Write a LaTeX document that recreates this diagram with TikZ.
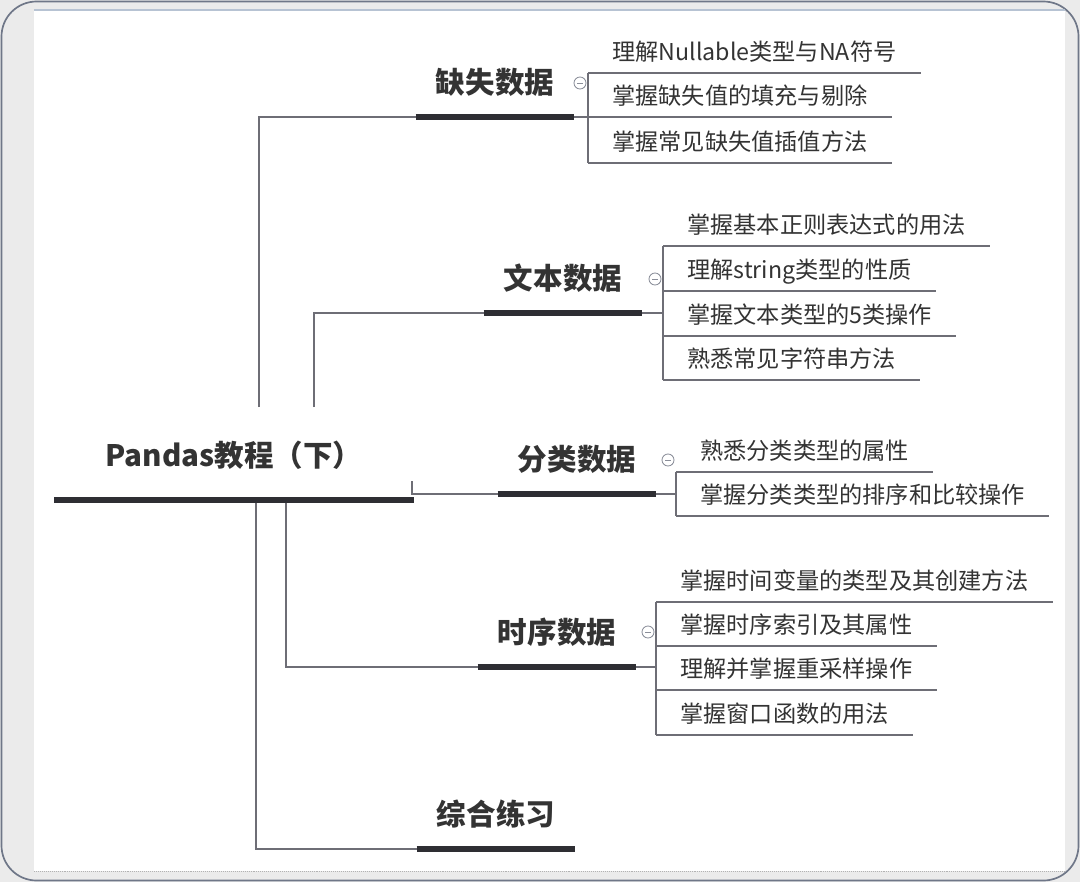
\documentclass[tikz,border=0pt]{standalone}
\usepackage{fontspec}
\setmainfont{Noto Sans CJK SC}
\usetikzlibrary{positioning,calc}

\definecolor{inkcol}{HTML}{333333}
\definecolor{twigcol}{HTML}{6E6E76}
\definecolor{barcol}{HTML}{2E2E33}
\definecolor{bgcol}{HTML}{EBEBEB}
\definecolor{framecol}{HTML}{6F7788}
\definecolor{edgecol}{HTML}{B7C3D3}
\definecolor{foldcol}{HTML}{8A8E99}

\begin{document}
\begin{tikzpicture}[x=0.025cm, y=-0.025cm,
	twig/.style={twigcol, line width=1pt},
	bar/.style={barcol, line width=4pt},
	rootnode/.style={font=\bfseries\fontsize{21pt}{25pt}\selectfont, text=inkcol, anchor=south, inner xsep=1.28cm, inner ysep=0.83cm, text depth=0pt},
	topic/.style={font=\bfseries\fontsize{21pt}{25pt}\selectfont, text=inkcol, anchor=south, inner xsep=0.5cm, inner ysep=0.575cm, text depth=0pt},
	leaf/.style={font=\fontsize{16.5pt}{19pt}\selectfont, text=inkcol, anchor=south west, inner xsep=0.6cm, inner ysep=0.31cm, text depth=0pt},
	fold/.style={circle, draw=foldcol, fill=white, line width=0.6pt, inner sep=0pt, minimum size=0.3cm,
		path picture={\draw[foldcol, line width=0.6pt] ([xshift=-2pt]path picture bounding box.center) -- ([xshift=2pt]path picture bounding box.center);}}]
	\useasboundingbox (0,0) rectangle (1080,882);

	% frame
	\fill[bgcol] (0,0) rectangle (1080,882);
	\draw[framecol, line width=1.2pt, rounded corners=0.875cm] (1.5,1.5) rectangle (1078.5,880.5);
	\fill[white] (34,10) rectangle (1065,871);
	\draw[edgecol, line width=1pt] (34,10) -- (1065,10);
	\draw[gray!60, densely dotted] (34,871) -- (1065,871);

	\node[rootnode] (pd) at (234, 500) {Pandas教程（下）};

	\node[topic] (miss) at (495, 117) {缺失数据};
	\node[topic] (txt)  at (563, 313) {文本数据};
	\node[topic] (cat)  at (577, 494) {分类数据};
	\node[topic] (time) at (557, 667) {时序数据};
	\node[topic] (prac) at (496, 849) {综合练习};

	\node[leaf] (miss1) at (588, 73)  {理解Nullable类型与NA符号};
	\node[leaf] (miss2) at (588, 117) {掌握缺失值的填充与剔除};
	\node[leaf] (miss3) at (588, 163) {掌握常见缺失值插值方法};

	\node[leaf] (txt1) at (663, 246) {掌握基本正则表达式的用法};
	\node[leaf] (txt2) at (663, 291) {理解string类型的性质};
	\node[leaf] (txt3) at (663, 336) {掌握文本类型的5类操作};
	\node[leaf] (txt4) at (663, 380) {熟悉常见字符串方法};

	\node[leaf] (cat1) at (676, 472) {熟悉分类类型的属性};
	\node[leaf] (cat2) at (676, 516) {掌握分类类型的排序和比较操作};

	\node[leaf] (time1) at (656, 602) {掌握时间变量的类型及其创建方法};
	\node[leaf] (time2) at (656, 646) {掌握时序索引及其属性};
	\node[leaf] (time3) at (656, 690) {理解并掌握重采样操作};
	\node[leaf] (time4) at (656, 735) {掌握窗口函数的用法};

	% root to topics
	\coordinate (jmiss) at (259, 407);
	\coordinate (jtxt)  at (314, 407);
	\coordinate (jcat)  at (412, 481);
	\coordinate (jtime) at (286, 503);
	\coordinate (jprac) at (256, 503);
	\draw[twig] (jmiss) |- (miss.south west);
	\draw[twig] (jtxt)  |- (txt.south west);
	\draw[twig] (jcat)  |- (cat.south west);
	\draw[twig] (jtime) |- (time.south west);
	\draw[twig] (jprac) |- (prac.south west);

	% topics to leaves
	\draw[twig] (miss.south east) -- (miss2.south west);
	\draw[twig] (miss1.south west) -- (miss3.south west);
	\draw[twig] (txt.south east) -- (txt.south east -| txt1.south west);
	\draw[twig] (txt1.south west) -- (txt4.south west);
	\draw[twig] (cat.south east) -- (cat.south east -| cat1.south west);
	\draw[twig] (cat1.south west) -- (cat2.south west);
	\draw[twig] (time.south east) -- (time.south east -| time1.south west);
	\draw[twig] (time1.south west) -- (time4.south west);

	\foreach \l in {miss1,miss2,miss3,txt1,txt2,txt3,txt4,cat1,cat2,time1,time2,time3,time4}
		\draw[twig] (\l.south west) -- (\l.south east);

	% thick underlines
	\foreach \t in {pd,miss,txt,cat,time,prac}
		\draw[bar] (\t.south west) -- (\t.south east);

	% fold marks
	\node[fold] (missf) at (580, 83)  {};
	\node[fold] (txtf)  at (655, 279) {};
	\node[fold] (catf)  at (668, 460) {};
	\node[fold] (timef) at (648, 632) {};
\end{tikzpicture}
\end{document}
